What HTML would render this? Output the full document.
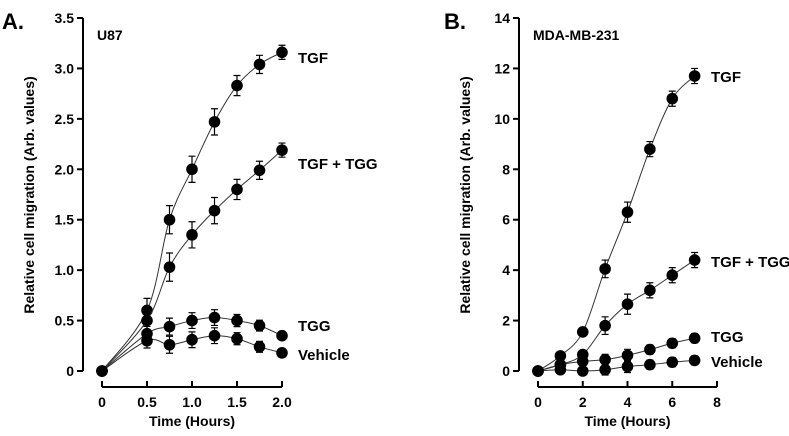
<!DOCTYPE html>
<html><head><meta charset="utf-8"><style>
body{margin:0;background:#fff;width:789px;height:431px;overflow:hidden}
text{font-family:"Liberation Sans",Arial,sans-serif;font-weight:bold;fill:#000}
</style></head><body>
<svg id="c" width="789" height="431"></svg>
<script>
const xA=[0,0.5,0.75,1.0,1.25,1.5,1.75,2.0];
const A_tgf=[0,0.6,1.5,2.0,2.47,2.83,3.04,3.16];
const A_tgftgg=[0,0.5,1.03,1.35,1.59,1.8,1.99,2.19];
const A_tgg=[0,0.37,0.44,0.5,0.53,0.5,0.45,0.35];
const A_veh=[0,0.3,0.26,0.31,0.35,0.32,0.24,0.18];
const A_err=[0.03,0.12,0.14,0.13,0.13,0.1,0.09,0.07];
const xB=[0,1,2,3,4,5,6,7];
const B_tgf=[0,0.6,1.55,4.05,6.3,8.8,10.8,11.7];
const B_tgftgg=[0,0.25,0.65,1.8,2.65,3.2,3.8,4.4];
const B_tgg=[0,0.25,0.38,0.45,0.62,0.85,1.1,1.3];
const B_veh=[0,0.05,0,0.05,0.18,0.25,0.35,0.42];
const B_err=[0.05,0.1,0.1,0.35,0.4,0.3,0.3,0.3];
const A_yt=["0","0.5","1.0","1.5","2.0","2.5","3.0","3.5"];
const A_xt=["0","0.5","1.0","1.5","2.0"];
const B_yt=["0","2","4","6","8","10","12","14"];
const B_xt=["0","2","4","6","8"];
const NS="http://www.w3.org/2000/svg",svg=document.getElementById('c');
function mk(t,a,p){const e=document.createElementNS(NS,t);for(const k in a)e.setAttribute(k,a[k]);(p||svg).appendChild(e);return e;}
function panel(o){
 const g=mk('g',{});
 
 
 const sx=v=>o.x0+(v-o.xmin)/(o.xmax-o.xmin)*(o.x1-o.x0);
 const sy=v=>371-v/o.ymax*353;
 const ya=mk('line',{x1:o.ax,y1:18,x2:o.ax,y2:371,stroke:'#000','stroke-width':2},g);
 
 o.yt.forEach(t=>{const y=sy(+t);mk('line',{x1:o.ax-6,y1:y,x2:o.ax,y2:y,stroke:'#000','stroke-width':2},g);
  const tx=mk('text',{x:o.ax-9,y:y+5,'text-anchor':'end','font-size':14},g);tx.textContent=t;
  });
 const xa=mk('line',{x1:sx(o.xmin),y1:387,x2:o.x1,y2:387,stroke:'#000','stroke-width':2},g);
 
 o.xt.forEach(t=>{const x=sx(+t);mk('line',{x1:x,y1:381,x2:x,y2:387,stroke:'#000','stroke-width':2},g);
  const tx=mk('text',{x:x,y:407,'text-anchor':'middle','font-size':14},g);tx.textContent=t;
  });
 const xt=mk('text',{x:(sx(o.xmin)+o.x1)/2,y:426,'text-anchor':'middle','font-size':14},g);xt.textContent='Time (Hours)';
 
 const yt=mk('text',{x:0,y:0,'text-anchor':'middle','font-size':14,transform:`translate(${o.ax-49},195) rotate(-90)`},g);yt.textContent='Relative cell migration (Arb. values)';
 
 const pl=mk('text',{x:o.ax+14,y:o.cellY,'font-size':14},g);pl.textContent=o.cell;
 
 const lt=mk('text',{x:o.lx,y:29,'font-size':22},g);lt.textContent=o.letter;
 
 o.series.forEach(s=>{
  const pts=o.xs.map((x,i)=>[sx(x),sy(s.v[i])]);
  let d='M'+pts[0][0]+','+pts[0][1];
  for(let i=0;i<pts.length-1;i++){const p0=pts[Math.max(0,i-1)],p1=pts[i],p2=pts[i+1],p3=pts[Math.min(pts.length-1,i+2)];
   d+=` C${p1[0]+(p2[0]-p0[0])/6},${p1[1]+(p2[1]-p0[1])/6} ${p2[0]-(p3[0]-p1[0])/6},${p2[1]-(p3[1]-p1[1])/6} ${p2[0]},${p2[1]}`;}
  const ln=mk('path',{d:d,fill:'none',stroke:'#333','stroke-width':1},g);
  
  o.xs.forEach((x,i)=>{const cx=sx(x),cy=sy(s.v[i]),e=o.err[i]/o.ymax*353*(s.k==='tgf'||s.k==='tgf-tgg'?1:0.6);
   mk('path',{d:`M${cx},${cy-e}V${cy+e}M${cx-3.5},${cy-e}h7M${cx-3.5},${cy+e}h7`,stroke:'#000','stroke-width':1.2},g);
   const c=mk('circle',{cx:cx,cy:cy,r:5.8,fill:'#000'},g);
   });
  const lb=mk('text',{x:o.labX,y:s.ly,'font-size':15},g);lb.textContent=s.name;
  
 });
}
panel({name:'panel-a',letter:'A.',lx:2,ax:83,x0:102,x1:282,xmin:0,xmax:2,ymax:3.5,yt:A_yt,xt:A_xt,xs:xA,err:A_err,cell:'U87',cellY:40,labX:298,
 series:[{k:'tgf',name:'TGF',v:A_tgf,ly:63},{k:'tgf-tgg',name:'TGF + TGG',v:A_tgftgg,ly:169},{k:'tgg',name:'TGG',v:A_tgg,ly:331},{k:'vehicle',name:'Vehicle',v:A_veh,ly:360}]});
panel({name:'panel-b',letter:'B.',lx:444,ax:519,x0:538,x1:717,xmin:0,xmax:8,ymax:14,yt:B_yt,xt:B_xt,xs:xB,err:B_err,cell:'MDA-MB-231',cellY:40,labX:711,
 series:[{k:'tgf',name:'TGF',v:B_tgf,ly:82},{k:'tgf-tgg',name:'TGF + TGG',v:B_tgftgg,ly:267},{k:'tgg',name:'TGG',v:B_tgg,ly:342},{k:'vehicle',name:'Vehicle',v:B_veh,ly:367}]});
</script>
</body></html>
